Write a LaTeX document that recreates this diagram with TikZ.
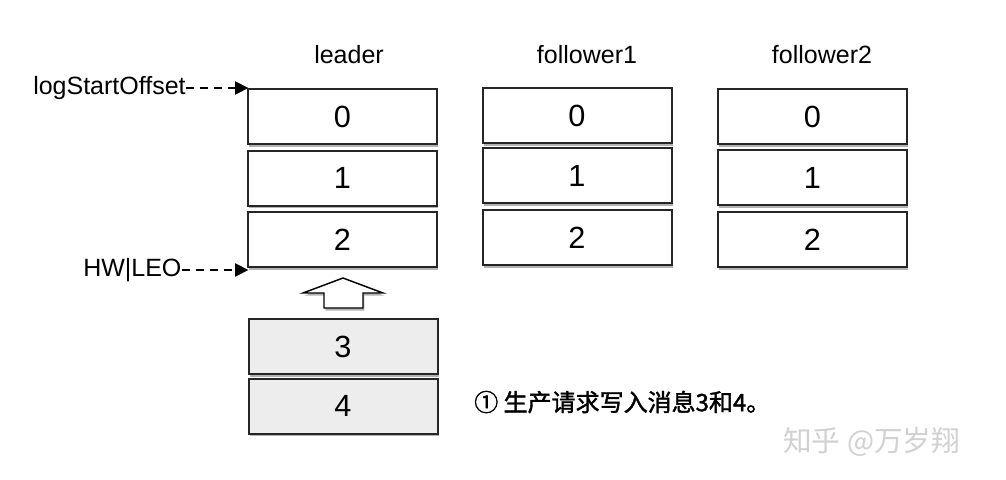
\documentclass[tikz,border=0pt]{standalone}
\usepackage{fontspec}
\setmainfont{Liberation Sans}
\newfontfamily\cjk{Noto Sans CJK SC}
\newfontfamily\cjkmed{Noto Sans CJK SC}[FakeBold=1.6]
\usetikzlibrary{shadows,arrows.meta}
\begin{document}
\begin{tikzpicture}[x=0.75pt,y=-0.75pt,
  cell/.style={draw=black!85, line width=1.5pt, fill=white, minimum width=141.75pt, minimum height=41.25pt, inner sep=0pt,
    font=\fontsize{23}{26}\selectfont,
    drop shadow={shadow xshift=1pt, shadow yshift=-2pt, opacity=0.3, fill=black}},
  newcell/.style={cell, fill=black!7},
  lbl/.style={inner sep=0pt, font=\fontsize{18.75}{22}\selectfont},
  ptr/.style={dash pattern=on 6pt off 4.5pt, line width=1.1pt, -{Triangle[length=10pt,width=10pt]}}
]
\useasboundingbox[fill=white] (0,0) rectangle (1006,479);

% headers
\node[lbl, anchor=base] (hl) at (349,63) {leader};
\node[lbl, anchor=base] (hf1) at (587,63) {follower1};
\node[lbl, anchor=base] (hf2) at (822,63) {follower2};

% leader
\node[cell] (l0) at (342.5,116.5) {0};
\node[cell] (l1) at (342.5,178) {1};
\node[cell] (l2) at (342.5,239.5) {2};

% follower1
\node[cell] (a0) at (577,115.5) {0};
\node[cell] (a1) at (577,175.5) {1};
\node[cell] (a2) at (577,237.5) {2};

% follower2
\node[cell] (b0) at (812.5,116.5) {0};
\node[cell] (b1) at (812.5,177.5) {1};
\node[cell] (b2) at (812.5,239.5) {2};

% new messages
\node[newcell] (n3) at (343,346.5) {3};
\node[newcell] (n4) at (343,406) {4};

% block arrow
\draw[line width=1.1pt, fill=white, drop shadow={shadow xshift=1pt, shadow yshift=-2pt, opacity=0.3, fill=black}]
  (343,278) -- (383,293) -- (363,293) -- (363,308) -- (324,308) -- (324,293) -- (303,293) -- cycle;

% pointers
\node[lbl, anchor=west] (lso) at (33,88) {logStartOffset};
\node[lbl, anchor=west] (hw) at (83,270) {HW|LEO};
\draw[ptr] (lso.east) -- ([xshift=1pt]l0.west |- lso.east);
\draw[ptr] (hw.east) -- ([xshift=1pt]l2.west |- hw.east);

% note
\node[anchor=west, inner sep=0pt, font=\cjkmed\fontsize{18}{20}\selectfont] (note) at (474,402) {① 生产请求写入消息3和4。};

% watermark
\node[anchor=west, inner sep=0pt, text=black!18, font=\cjk\fontsize{21.5}{24}\selectfont] (wm) at (783,442) {知乎 @万岁翔};
\end{tikzpicture}
\end{document}
